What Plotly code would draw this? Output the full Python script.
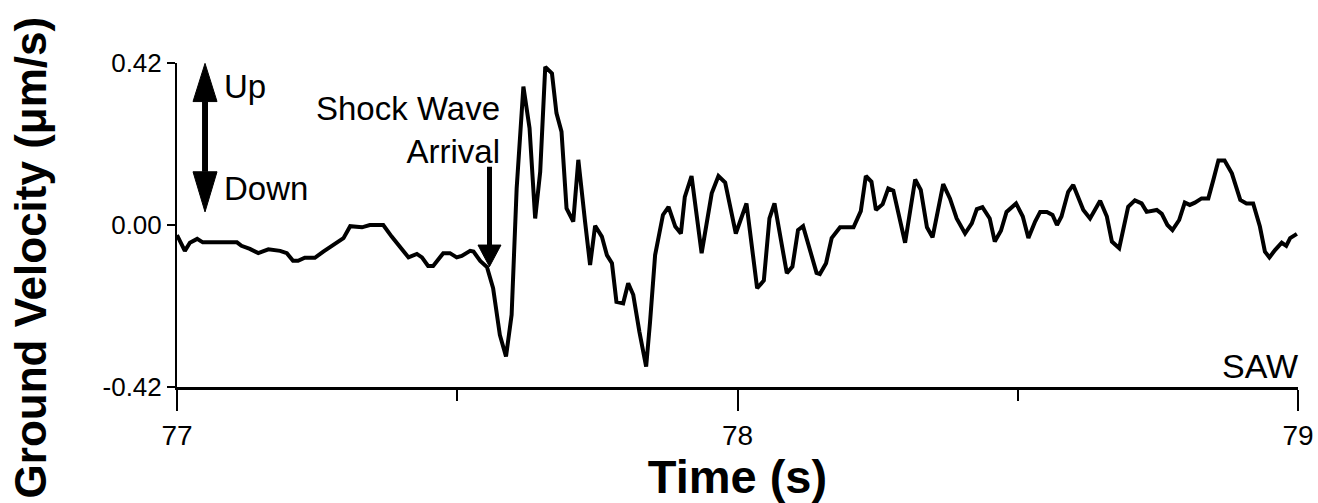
import plotly.graph_objects as go

# Time (s) and ground velocity (um/s)
time_s = [
    77.000, 77.014, 77.023, 77.036, 77.046, 77.107, 77.115, 77.130, 77.145, 77.163,
    77.184, 77.196, 77.207, 77.216, 77.228, 77.246, 77.261, 77.276, 77.288, 77.297,
    77.309, 77.330, 77.344, 77.368, 77.383, 77.398, 77.413, 77.428, 77.437, 77.448,
    77.457, 77.475, 77.487, 77.499, 77.508, 77.523, 77.529, 77.541, 77.553, 77.564,
    77.576, 77.587, 77.597, 77.606, 77.618, 77.629, 77.639, 77.648, 77.657, 77.669,
    77.677, 77.686, 77.695, 77.707, 77.716, 77.728, 77.737, 77.746, 77.758, 77.767,
    77.776, 77.784, 77.796, 77.805, 77.814, 77.825, 77.837, 77.844, 77.853, 77.867,
    77.877, 77.889, 77.899, 77.906, 77.918, 77.936, 77.954, 77.966, 77.978, 77.997,
    78.016, 78.035, 78.047, 78.057, 78.066, 78.088, 78.098, 78.108, 78.117, 78.141,
    78.147, 78.158, 78.168, 78.183, 78.207, 78.220, 78.229, 78.239, 78.247, 78.259,
    78.269, 78.278, 78.299, 78.317, 78.327, 78.338, 78.348, 78.367, 78.379, 78.391,
    78.406, 78.418, 78.427, 78.437, 78.450, 78.459, 78.470, 78.480, 78.497, 78.509,
    78.519, 78.531, 78.540, 78.552, 78.562, 78.570, 78.578, 78.590, 78.599, 78.617,
    78.629, 78.647, 78.659, 78.668, 78.681, 78.697, 78.709, 78.721, 78.730, 78.748,
    78.757, 78.767, 78.776, 78.788, 78.798, 78.807, 78.816, 78.828, 78.840, 78.849,
    78.858, 78.869, 78.882, 78.897, 78.908, 78.920, 78.932, 78.941, 78.949, 78.959,
    78.971, 78.979, 78.986, 78.998,
]
velocity = [
    -0.026, -0.067, -0.046, -0.036, -0.045, -0.045, -0.054, -0.062, -0.073, -0.063,
    -0.067, -0.073, -0.093, -0.093, -0.085, -0.085, -0.069, -0.054, -0.043, -0.034,
    -0.003, -0.006, 0.000, 0.000, -0.030, -0.056, -0.084, -0.075, -0.084, -0.106,
    -0.106, -0.073, -0.073, -0.084, -0.080, -0.067, -0.069, -0.093, -0.109, -0.164,
    -0.285, -0.341, -0.233, 0.095, 0.359, 0.251, 0.017, 0.138, 0.410, 0.393,
    0.290, 0.242, 0.043, 0.009, 0.169, 0.009, -0.104, -0.002, -0.030, -0.078,
    -0.099, -0.199, -0.203, -0.151, -0.181, -0.277, -0.367, -0.251, -0.078, 0.026,
    0.047, -0.004, -0.022, 0.073, 0.127, -0.073, 0.082, 0.127, 0.110, -0.022,
    0.056, -0.164, -0.144, 0.017, 0.056, -0.125, -0.108, -0.013, -0.003, -0.124,
    -0.127, -0.099, -0.034, -0.006, -0.006, 0.036, 0.127, 0.112, 0.039, 0.054,
    0.095, 0.089, -0.046, 0.118, 0.091, -0.006, -0.032, 0.106, 0.069, 0.017,
    -0.022, 0.004, 0.041, 0.046, 0.017, -0.043, -0.015, 0.034, 0.056, 0.022,
    -0.034, 0.009, 0.034, 0.034, 0.026, 0.000, 0.022, 0.086, 0.104, 0.039,
    0.017, 0.063, 0.022, -0.043, -0.060, 0.047, 0.064, 0.056, 0.034, 0.039,
    0.029, 0.000, -0.013, 0.013, 0.058, 0.052, 0.058, 0.069, 0.069, 0.117,
    0.167, 0.167, 0.134, 0.065, 0.056, 0.056, -0.004, -0.069, -0.084, -0.065,
    -0.046, -0.054, -0.034, -0.023,
]

y_ticks = [-0.42, 0.00, 0.42]
y_tick_labels = ["-0.42", "0.00", "0.42"]
x_ticks = [77, 78, 79]
x_tick_labels = ["77", "78", "79"]
x_minor_ticks = [77.5, 78.5]

SANS = "Liberation Sans, Arial, Helvetica"

fig = go.Figure()
fig.add_trace(go.Scatter(
    x=time_s, y=velocity, mode="lines",
    line=dict(color="black", width=4),
    showlegend=False, hoverinfo="skip",
))

# Up/Down double arrow
ud_x = 77.050
ud_hw = 0.0214
up_tip, up_base = 0.419, 0.320
dn_base, dn_tip = 0.138, 0.034
# Shock-wave arrival arrow
sw_x = 77.5575
sw_hw = 0.0205
sw_top, sw_base, sw_tip = 0.151, -0.052, -0.108

shapes = [
    dict(type="line", xref="x", yref="y", x0=ud_x, x1=ud_x, y0=up_base, y1=dn_base,
         line=dict(color="black", width=6)),
    dict(type="path", xref="x", yref="y",
         path=f"M {ud_x - ud_hw} {up_base} L {ud_x} {up_tip} L {ud_x + ud_hw} {up_base} Z",
         fillcolor="black", line=dict(color="black", width=1)),
    dict(type="path", xref="x", yref="y",
         path=f"M {ud_x - ud_hw} {dn_base} L {ud_x} {dn_tip} L {ud_x + ud_hw} {dn_base} Z",
         fillcolor="black", line=dict(color="black", width=1)),
    dict(type="line", xref="x", yref="y", x0=sw_x, x1=sw_x, y0=sw_top, y1=sw_base,
         line=dict(color="black", width=5)),
    dict(type="path", xref="x", yref="y",
         path=f"M {sw_x - sw_hw} {sw_base} L {sw_x} {sw_tip} L {sw_x + sw_hw} {sw_base} Z",
         fillcolor="black", line=dict(color="black", width=1)),
]

annotations = [
    dict(text="Up", x=77.080, y=0.360, xref="x", yref="y", xanchor="left", yanchor="middle",
         showarrow=False, font=dict(family=SANS, size=33, color="black")),
    dict(text="Down", x=77.080, y=0.095, xref="x", yref="y", xanchor="left", yanchor="middle",
         showarrow=False, font=dict(family=SANS, size=33, color="black")),
    dict(text="Shock Wave<br>Arrival", x=77.580, y=0.246, xref="x", yref="y",
         xanchor="right", yanchor="middle", align="right", showarrow=False,
         font=dict(family=SANS, size=33, color="black")),
    dict(text="SAW", x=1.002, y=-0.42, xref="paper", yref="y", xanchor="right", yanchor="bottom",
         showarrow=False, font=dict(family=SANS, size=34, color="black")),
    # y-axis title (placed as an annotation so it can be centred like the reference)
    dict(text="<b>Ground Velocity (μm/s)</b>", x=-0.1311, y=0.40, xref="paper", yref="paper",
         xanchor="center", yanchor="middle", textangle=-90, showarrow=False,
         font=dict(family=SANS, size=44, color="black")),
]

fig.update_layout(
    width=1318, height=503,
    margin=dict(l=177, r=20, t=63, b=116),
    paper_bgcolor="white", plot_bgcolor="white",
    shapes=shapes, annotations=annotations,
    xaxis=dict(
        range=[77, 79], tickvals=x_ticks, ticktext=x_tick_labels, automargin=False,
        ticks="outside", ticklen=21, tickwidth=1.5, tickcolor="black",
        minor=dict(tickvals=x_minor_ticks, ticks="outside", ticklen=11, tickwidth=1.5, tickcolor="black"),
        showline=True, linecolor="black", linewidth=3, showgrid=False, zeroline=False,
        tickfont=dict(family=SANS, size=28, color="black"),
        title=dict(text="<b>Time (s)</b>", standoff=6,
                   font=dict(family=SANS, size=47, color="black")),
    ),
    yaxis=dict(
        range=[-0.42, 0.42], tickvals=y_ticks, ticktext=y_tick_labels, automargin=False,
        ticks="outside", ticklen=8, tickwidth=1.5, tickcolor="black",
        showline=True, linecolor="black", linewidth=2, showgrid=False, zeroline=False,
        tickfont=dict(family=SANS, size=26, color="black"),
    ),
)

fig.write_html("out.html")
